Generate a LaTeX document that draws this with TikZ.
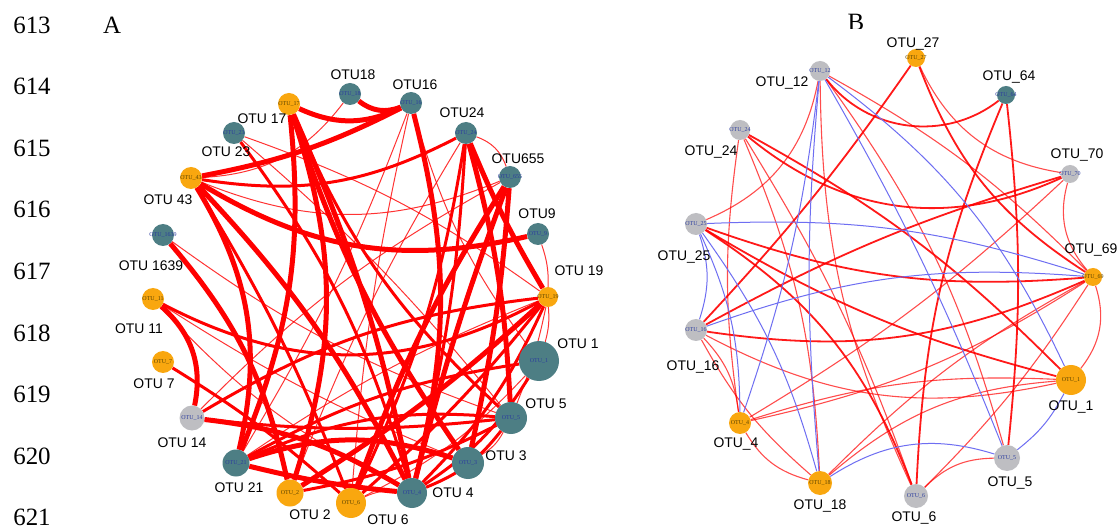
\documentclass[tikz,border=0pt]{standalone}
\usepackage{fontspec}
\setmainfont{Liberation Serif}
\newfontfamily\otusans{Liberation Sans}
\newcommand\otulab{\otusans\fontsize{14}{14}\selectfont}
\newcommand\otuinner{\rmfamily\fontsize{6}{6}\selectfont}
\newcommand\otubig{\rmfamily\fontsize{25}{25}\selectfont}
\newcommand\otuin[1]{\makebox[0pt][c]{#1}}
\definecolor{tealc}{HTML}{4D7E84}
\definecolor{orangec}{HTML}{F9A70F}
\definecolor{greyc}{HTML}{BEBEC2}
\definecolor{innerblue}{HTML}{2B3C9E}
\definecolor{innerbrown}{HTML}{5A4300}
\definecolor{bluee}{HTML}{6E6EF2}
\definecolor{rede}{HTML}{FF0000}
\pgfdeclarelayer{bgl}
\pgfdeclarelayer{edges}
\pgfsetlayers{bgl,edges,main}
\begin{document}
\begin{tikzpicture}[x=1bp,y=1bp,
  nd/.style={circle, inner sep=0pt, font=\otuinner},
  tl/.style={nd, fill=tealc, text=innerblue},
  og/.style={nd, fill=orangec, text=innerbrown},
  gy/.style={nd, fill=greyc, text=innerblue},
  lb/.style={font=\otulab, inner sep=0pt, text=black},
  num/.style={font=\otubig, inner sep=0pt, text=black},
  eT/.style={draw=rede, line width=5bp},
  eM/.style={draw=rede, line width=3bp},
  eS/.style={draw=rede, line width=1bp, draw opacity=0.8},
  bR/.style={draw=rede, line width=1.8bp, draw opacity=0.9},
  bS/.style={draw=rede, line width=1.1bp, draw opacity=0.7},
  bB/.style={draw=bluee, line width=1bp}]
\useasboundingbox (0,0) rectangle (1119,-529);
\begin{pgfonlayer}{bgl}
\fill[white] (0,0) rectangle (1119,-529);
\end{pgfonlayer}

% line numbers
\foreach \n [count=\i from 0] in {613,614,615,616,617,618,619,620,621}
  \node[num] (ln\n) at (32,-25-61.6*\i) {\n};
\node[num] (pA) at (112,-25) {A};
\begin{scope}
\clip (830,0) rectangle (880,-29);
\node[num] (pB) at (856,-22) {B};
\end{scope}

% ---------------- Panel A nodes ----------------
\node[og, minimum size=22bp] (a17) at (289,-104) {\otuin{OTU\_17}};
\node[tl, minimum size=22bp] (a18) at (350,-94) {\otuin{OTU\_18}};
\node[tl, minimum size=22bp] (a16) at (411,-103) {\otuin{OTU\_16}};
\node[tl, minimum size=22bp] (a24) at (466,-133) {\otuin{OTU\_24}};
\node[tl, minimum size=22bp] (a655) at (510,-177) {\otuin{OTU\_655}};
\node[tl, minimum size=22bp] (a9) at (538,-234) {\otuin{OTU\_9}};
\node[og, minimum size=20bp] (a19) at (548,-297) {\otuin{OTU\_19}};
\node[tl, minimum size=40bp] (a1) at (539,-361) {\otuin{OTU\_1}};
\node[tl, minimum size=32bp] (a5) at (511,-418) {\otuin{OTU\_5}};
\node[tl, minimum size=32bp] (a3) at (468,-463) {\otuin{OTU\_3}};
\node[tl, minimum size=30bp] (a4) at (412,-493) {\otuin{OTU\_4}};
\node[og, minimum size=30bp] (a6) at (351,-503) {\otuin{OTU\_6}};
\node[og, minimum size=27bp] (a2) at (290,-493) {\otuin{OTU\_2}};
\node[tl, minimum size=27bp] (a21) at (236,-463) {\otuin{OTU\_21}};
\node[gy, minimum size=25bp] (a14) at (192,-418) {\otuin{OTU\_14}};
\node[og, minimum size=22bp] (a7) at (163,-362) {\otuin{OTU\_7}};
\node[og, minimum size=22bp] (a11) at (153,-299) {\otuin{OTU\_11}};
\node[tl, minimum size=22bp] (a1639) at (163,-235) {\otuin{OTU\_1639}};
\node[og, minimum size=22bp] (a43) at (191,-178) {\otuin{OTU\_43}};
\node[tl, minimum size=22bp] (a23) at (234,-133) {\otuin{OTU\_23}};

\node[lb] (a17l) at (262,-119) {OTU 17};
\node[lb] (a18l) at (353,-75) {OTU18};
\node[lb] (a16l) at (415,-85) {OTU16};
\node[lb] (a24l) at (462,-113) {OTU24};
\node[lb] (a655l) at (518,-159) {OTU655};
\node[lb] (a9l) at (537,-214) {OTU9};
\node[lb] (a19l) at (579,-271) {OTU 19};
\node[lb] (a1l) at (578,-344) {OTU 1};
\node[lb] (a5l) at (546,-404) {OTU 5};
\node[lb] (a3l) at (506,-456) {OTU 3};
\node[lb] (a4l) at (453,-493) {OTU 4};
\node[lb] (a6l) at (388,-520) {OTU 6};
\node[lb] (a2l) at (310,-515) {OTU 2};
\node[lb] (a21l) at (239,-488) {OTU 21};
\node[lb] (a14l) at (182,-443) {OTU 14};
\node[lb] (a7l) at (154,-384) {OTU 7};
\node[lb] (a11l) at (139,-329) {OTU 11};
\node[lb] (a1639l) at (151,-266) {OTU 1639};
\node[lb] (a43l) at (168,-200) {OTU 43};
\node[lb] (a23l) at (226,-152) {OTU 23};

% ---------------- Panel B nodes ----------------
\node[gy, minimum size=20bp] (b12) at (820,-71) {\otuin{OTU\_12}};
\node[og, minimum size=18bp] (b27) at (916,-58) {\otuin{OTU\_27}};
\node[tl, minimum size=18bp] (b64) at (1006,-95) {\otuin{OTU\_64}};
\node[gy, minimum size=18bp] (b70) at (1070,-174) {\otuin{OTU\_70}};
\node[og, minimum size=18bp] (b69) at (1093,-277) {\otuin{OTU\_69}};
\node[og, minimum size=30bp] (b1) at (1071,-380) {\otuin{OTU\_1}};
\node[gy, minimum size=26bp] (b5) at (1007,-458) {\otuin{OTU\_5}};
\node[gy, minimum size=24bp] (b6) at (916,-496) {\otuin{OTU\_6}};
\node[og, minimum size=24bp] (b18) at (820,-483) {\otuin{OTU\_18}};
\node[og, minimum size=22bp] (b4) at (740,-423) {\otuin{OTU\_4}};
\node[gy, minimum size=22bp] (b16) at (696,-330) {\otuin{OTU\_16}};
\node[gy, minimum size=22bp] (b25) at (696,-224) {\otuin{OTU\_25}};
\node[gy, minimum size=20bp] (b24) at (740,-130) {\otuin{OTU\_24}};

\node[lb] (b12l) at (782,-83) {OTU\_12};
\node[lb] (b27l) at (913,-44) {OTU\_27};
\node[lb] (b64l) at (1009,-77) {OTU\_64};
\node[lb] (b70l) at (1077,-155) {OTU\_70};
\node[lb] (b69l) at (1091,-250) {OTU\_69};
\node[lb] (b1l) at (1071,-407) {OTU\_1};
\node[lb] (b5l) at (1010,-483) {OTU\_5};
\node[lb] (b6l) at (914,-518) {OTU\_6};
\node[lb] (b18l) at (820,-506) {OTU\_18};
\node[lb] (b4l) at (736,-444) {OTU\_4};
\node[lb] (b16l) at (693,-367) {OTU\_16};
\node[lb] (b25l) at (684,-257) {OTU\_25};
\node[lb] (b24l) at (711,-152) {OTU\_24};

% ---------------- edges ----------------
\begin{pgfonlayer}{edges}
% panel A
\draw[eT] (a17) to[bend right=25] (a16);
\draw[eT] (a18) to[bend right=30] (a16);
\draw[eT] (a43) to[bend right=8] (a16);
\draw[eM] (a43) to[bend right=18] (a24);
\draw[eT] (a43) to[bend right=22] (a9);
\draw[eT] (a43) to[bend left=22] (a21);
\draw[eT] (a43) to[bend left=8] (a4);
\draw[eM] (a43) to[bend left=5] (a6);
\draw[eS] (a18) to[bend left=25] (a43);
\draw[eS] (a655) to[bend left=22] (a43);
\draw[eT] (a17) to[bend left=18] (a2);
\draw[eT] (a17) to[bend left=6] (a4);
\draw[eT] (a17) to[bend right=8] (a3);
\draw[eM] (a17) to[bend right=12] (a5);
\draw[eT] (a16) to[bend left=14] (a4);
\draw[eS] (a16) to[bend right=4] (a6);
\draw[eS] (a16) to[bend right=10] (a1);
\draw[eS] (a24) to[bend left=25] (a655);
\draw[eT] (a24) to[bend right=4] (a19);
\draw[eT] (a24) to[bend left=6] (a5);
\draw[eS] (a24) to[bend right=5] (a2);
\draw[eM] (a24) to[bend left=5] (a4);
\draw[eT] (a655) to[bend right=6] (a6);
\draw[eT] (a655) to[bend left=4] (a3);
\draw[eT] (a655) to[bend right=3] (a4);
\draw[eS] (a9) to[bend left=10] (a19);
\draw[eM] (a23) to[bend left=10] (a4);
\draw[eS] (a23) to[bend left=8] (a19);
\draw[eS] (a23) to[bend left=5] (a5);
\draw[eT] (a11) to[bend left=30] (a14);
\draw[eM] (a11) to[bend right=28] (a19);
\draw[eS] (a11) to[bend right=10] (a4);
\draw[eS] (a11) to[bend right=5] (a3);
\draw[eT] (a1639) to[bend left=14] (a2);
\draw[eS] (a1639) to[bend right=8] (a5);
\draw[eM] (a7) to[bend left=5] (a6);
\draw[eT] (a14) to[bend left=12] (a4);
\draw[eM] (a14) to[bend right=6] (a5);
\draw[eM] (a14) to[bend left=12] (a19);
\draw[eS] (a14) to[bend left=8] (a655);
\draw[eT] (a21) to[bend left=18] (a3);
\draw[eT] (a21) to[bend right=4] (a4);
\draw[eM] (a21) to[bend left=14] (a5);
\draw[eM] (a21) to[bend left=10] (a1);
\draw[eS] (a21) to[bend left=6] (a19);
\draw[eT] (a21) to[bend right=14] (a17);
\draw[eS] (a21) to[bend right=5] (a16);
\draw[eT] (a2) to[bend right=5] (a19);
\draw[eM] (a2) to[bend right=8] (a5);
\draw[eM] (a6) to[bend right=8] (a24);
\draw[eM] (a6) to[bend right=5] (a19);
\draw[eS] (a6) to[bend right=10] (a1);
\draw[eS] (a4) to[bend right=15] (a6);
\draw[eM] (a4) to[bend right=10] (a19);
\draw[eM] (a4) to[bend right=12] (a1);
\draw[eM] (a4) to[bend right=15] (a5);
\draw[eS] (a3) to[bend right=15] (a5);
\draw[eS] (a1) to[bend right=10] (a19);
\draw[eS] (a5) to[bend right=5] (a19);
% panel B
\draw[bR] (b12) to[bend right=45] (b64);
\draw[bR] (b24) to[bend right=32] (b70);
\draw[bR] (b27) to[bend left=4] (b16);
\draw[bR] (b27) to[bend right=18] (b69);
\draw[bR] (b64) to[bend left=6] (b5);
\draw[bR] (b64) to[bend right=10] (b6);
\draw[bR] (b25) to[bend right=8] (b1);
\draw[bR] (b25) to[bend left=18] (b6);
\draw[bR] (b25) to[bend right=12] (b69);
\draw[bR] (b16) to[bend left=6] (b70);
\draw[bR] (b16) to[bend right=16] (b69);
\draw[bR] (b24) to[bend left=8] (b1);
\draw[bS] (b12) to[bend left=28] (b25);
\draw[bS] (b12) to[bend left=10] (b5);
\draw[bS] (b12) to[bend right=12] (b6);
\draw[bS] (b12) to[bend left=8] (b69);
\draw[bS] (b27) to[bend right=28] (b70);
\draw[bS] (b70) to[bend right=28] (b69);
\draw[bS] (b69) to[bend left=28] (b1);
\draw[bS] (b69) to[bend left=10] (b4);
\draw[bS] (b69) to[bend right=8] (b18);
\draw[bS] (b69) to[bend left=6] (b6);
\draw[bS] (b24) to[bend left=10] (b18);
\draw[bS] (b24) to[bend right=8] (b4);
\draw[bS] (b24) to[bend left=6] (b6);
\draw[bS] (b16) to[bend right=20] (b1);
\draw[bS] (b16) to[bend right=10] (b18);
\draw[bS] (b16) to[bend left=18] (b4);
\draw[bS] (b4) to[bend right=22] (b18);
\draw[bS] (b4) to[bend left=10] (b1);
\draw[bS] (b18) to[bend left=18] (b1);
\draw[bS] (b5) to[bend right=22] (b6);
\draw[bS] (b70) to[bend left=6] (b4);
\draw[bB] (b12) to[bend right=5] (b18);
\draw[bB] (b12) to[bend left=14] (b1);
\draw[bB] (b12) to[bend left=4] (b5);
\draw[bB] (b25) to[bend left=18] (b16);
\draw[bB] (b25) to[bend left=12] (b4);
\draw[bB] (b25) to[bend left=10] (b18);
\draw[bB] (b25) to[bend left=10] (b69);
\draw[bB] (b16) to[bend left=12] (b69);
\draw[bB] (b1) to[bend left=12] (b5);
\draw[bB] (b18) to[bend left=25] (b5);
\draw[bB] (b4) to[bend right=6] (b12);
\end{pgfonlayer}
\end{tikzpicture}
\end{document}
